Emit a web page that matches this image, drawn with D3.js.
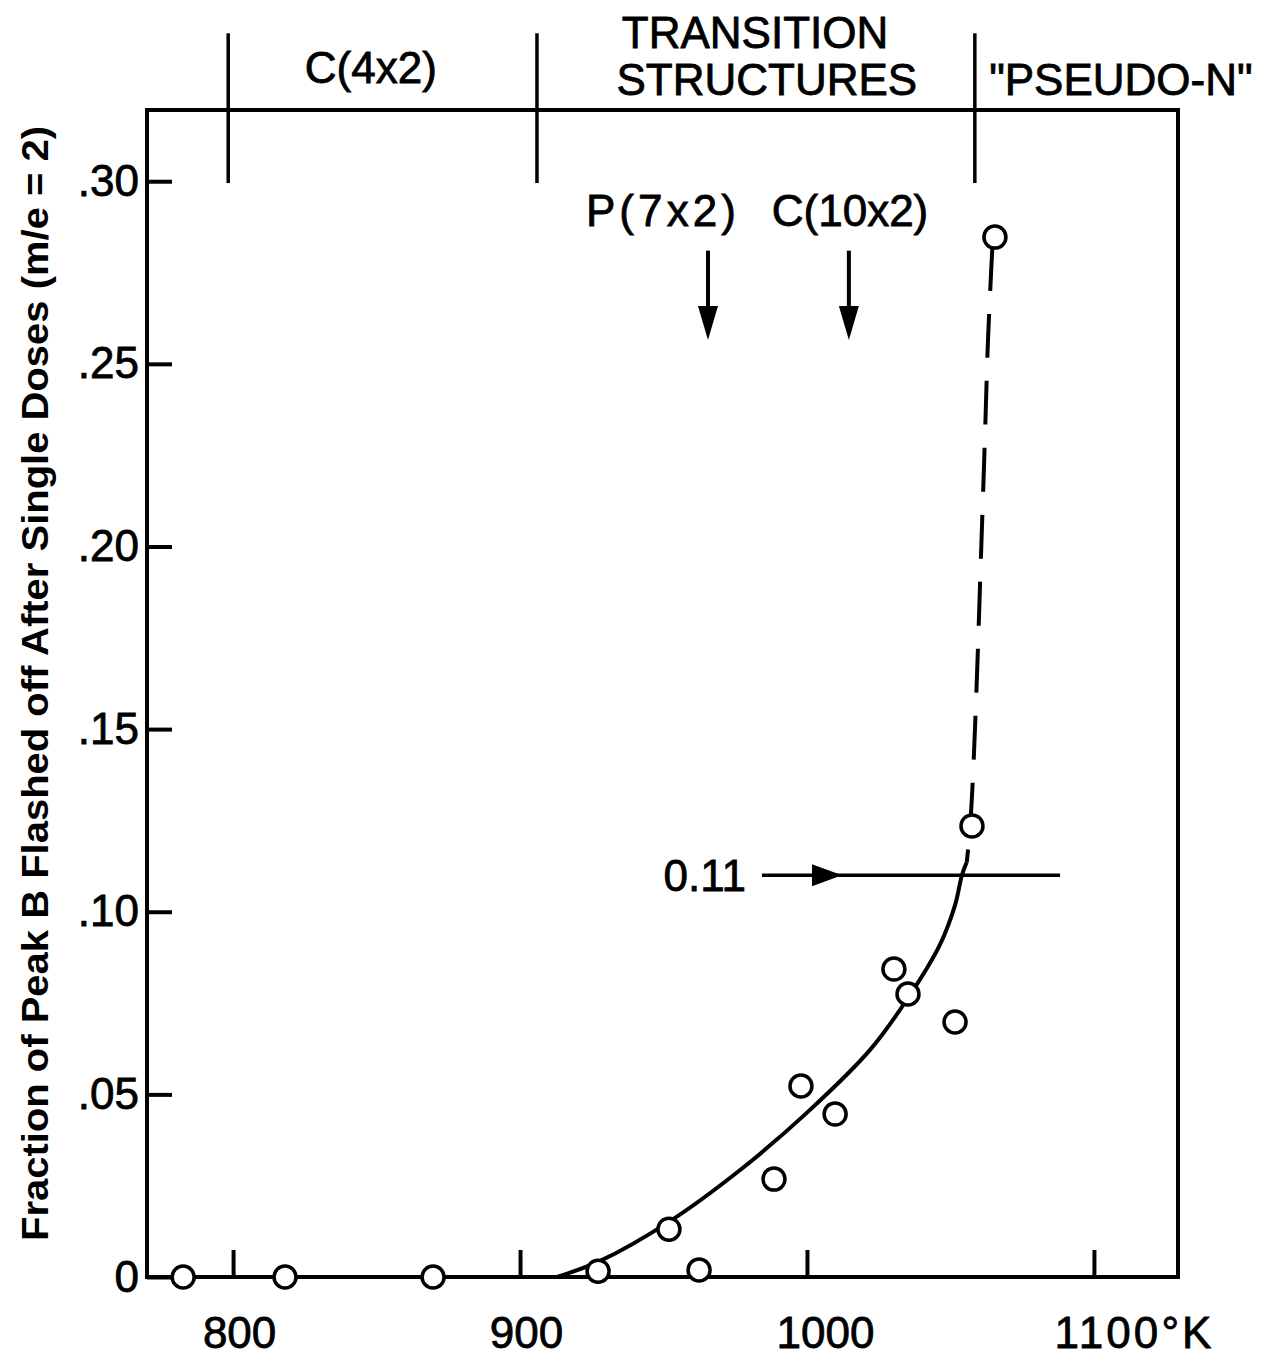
<!DOCTYPE html>
<html>
<head>
<meta charset="utf-8">
<script src="https://cdn.jsdelivr.net/npm/d3@7"></script>
<style>
  html, body { margin: 0; padding: 0; background: #fff; }
  svg { display: block; }
  text { font-family: "Liberation Sans", Arial, sans-serif; fill: #000; }
</style>
</head>
<body>
<svg id="chart" width="1275" height="1359"></svg>
<script>
// Measured points: temperature (K) vs. fraction of peak B flashed off
const tempK    = [782.6, 818.1, 869.7, 927.2, 951.9, 962.4, 988.5, 997.9, 1009.8, 1030.3, 1035.2, 1051.6, 1057.5, 1065.5];
const fraction = [0, 0, 0, 0.0016, 0.0131, 0.0019, 0.0268, 0.0523, 0.0446, 0.0843, 0.0775, 0.0698, 0.1235, 0.2847];

// Hand-drawn fit: solid part, then dashed continuation
const fitSolidT = [912.9, 927.9, 951.9, 976.7, 1000.3, 1021.9, 1035.9, 1046.3, 1051.6, 1054.0, 1055.7];
const fitSolidF = [0, 0.0044, 0.0151, 0.0293, 0.0452, 0.0621, 0.0772, 0.0909, 0.1018, 0.1100, 0.1136];
const fitDashT  = [1055.7, 1056.8, 1057.8, 1059.2, 1060.6, 1062.0, 1063.1, 1064.6];
const fitDashF  = [0.1136, 0.1228, 0.1363, 0.1637, 0.1965, 0.2294, 0.2568, 0.2820];

// Axis ticks
const xTicks      = [800, 900, 1000, 1100];
const xTickLabels = ["800", "900", "1000", "1100°K"];
const yTicks      = [0, 0.05, 0.10, 0.15, 0.20, 0.25, 0.30];
const yTickLabels = ["0", ".05", ".10", ".15", ".20", ".25", ".30"];

// Surface-structure regions along the temperature axis
const regionBounds = [798.3, 905.9, 1058.5];
const regionNames  = [["C(4x2)"], ["TRANSITION", "STRUCTURES"], ["\"PSEUDO-N\""]];
const regionLabelT = [[848], [981.9, 986.0], [1109.4]];

// Structure markers with downward arrows
const markerNames  = ["P(7x2)", "C(10x2)"];
const markerT      = [965.5, 1014.6];
const markerLabelT = [949.1, 1015];

// Threshold line
const thresholdValue = 0.11;
const thresholdLabel = "0.11";
const thresholdFrom  = 984.3;
const thresholdTo    = 1088.2;

const yTitle = "Fraction of Peak B Flashed off After Single Doses (m/e = 2)";

const svg = d3.select("#chart");
const plot = { left: 147, right: 1178, top: 110, bottom: 1277 };

const x = d3.scaleLinear().domain([770, 1129.3]).range([plot.left, plot.right]);
const y = d3.scaleLinear().domain([0, 0.3195]).range([plot.bottom, plot.top]);

const ink = s => s.style("stroke", "#000").style("stroke-width", "0.8px");

// Frame
svg.append("rect")
  .attr("x", plot.left).attr("y", plot.top)
  .attr("width", plot.right - plot.left).attr("height", plot.bottom - plot.top)
  .attr("fill", "none").attr("stroke", "#000").attr("stroke-width", 4);

// Bottom axis (ticks pointing inward)
const xAxis = d3.axisBottom(x).tickValues(xTicks).tickSize(-27).tickPadding(40)
  .tickFormat((d, i) => xTickLabels[i]);
const gx = svg.append("g").attr("transform", `translate(0,${plot.bottom})`).call(xAxis);
gx.select(".domain").remove();
gx.selectAll(".tick line").attr("stroke", "#000").attr("stroke-width", 4);
gx.selectAll(".tick text")
  .style("font-size", "44px")
  .attr("text-anchor", (d, i) => i === xTicks.length - 1 ? "start" : "middle")
  .attr("dx", (d, i) => i === xTicks.length - 1 ? -40 : (i === 2 ? 18 : 6))
  .each(function (d, i) {
    if (i === xTicks.length - 1) d3.select(this).attr("textLength", 157).attr("lengthAdjust", "spacing");
  })
  .call(ink);

// Left axis (ticks pointing inward)
const yAxis = d3.axisLeft(y).tickValues(yTicks).tickSize(-25).tickPadding(8)
  .tickFormat((d, i) => yTickLabels[i]);
const gy = svg.append("g").attr("transform", `translate(${plot.left},0)`).call(yAxis);
gy.select(".domain").remove();
gy.selectAll(".tick line").attr("stroke", "#000").attr("stroke-width", 4);
gy.selectAll(".tick text").style("font-size", "44px").call(ink);

// Y axis title
svg.append("text")
  .attr("transform", `translate(48,${(plot.top + plot.bottom) / 2 - 10}) rotate(-90)`)
  .attr("text-anchor", "middle")
  .attr("textLength", 1115).attr("lengthAdjust", "spacingAndGlyphs")
  .style("font-size", "36px").style("font-weight", "bold")
  .text(yTitle);

// Region dividers rising above the frame
svg.selectAll("line.region")
  .data(regionBounds)
  .join("line").attr("class", "region")
  .attr("x1", d => x(d)).attr("x2", d => x(d))
  .attr("y1", y(0.2995)).attr("y2", y(0.3405))
  .attr("stroke", "#000").attr("stroke-width", 3.5);

// Region names
const regionBase = [[83], [48, 95], [95]];
regionNames.forEach((lines, i) => {
  lines.forEach((s, j) => {
    svg.append("text")
      .attr("x", x(regionLabelT[i][j])).attr("y", regionBase[i][j])
      .attr("text-anchor", "middle")
      .style("font-size", "44px")
      .text(s)
      .call(ink);
  });
});

// Structure markers: label + down arrow
markerNames.forEach((s, i) => {
  const t = svg.append("text")
    .attr("x", x(markerLabelT[i])).attr("y", 226)
    .attr("text-anchor", "middle").style("font-size", "44px")
    .text(s)
    .call(ink);
  if (i === 0) t.attr("textLength", 150).attr("lengthAdjust", "spacing");
  const ax = x(markerT[i]);
  const yStart = y(0.281), yTip = y(0.2565);
  svg.append("line")
    .attr("x1", ax).attr("x2", ax).attr("y1", yStart).attr("y2", yTip - 20)
    .attr("stroke", "#000").attr("stroke-width", 4);
  svg.append("path")
    .attr("d", `M${ax - 10},${yTip - 34} L${ax + 10},${yTip - 34} L${ax},${yTip} Z`)
    .attr("fill", "#000");
});

// Threshold line with arrow
const ty = y(thresholdValue);
svg.append("line")
  .attr("x1", x(thresholdFrom)).attr("x2", x(thresholdTo))
  .attr("y1", ty).attr("y2", ty)
  .attr("stroke", "#000").attr("stroke-width", 3.5);
const tipX = x(1012.2);
svg.append("path")
  .attr("d", `M${tipX - 30},${ty - 11} L${tipX},${ty} L${tipX - 30},${ty + 11} Z`)
  .attr("fill", "#000");
svg.append("text")
  .attr("x", x(thresholdFrom) - 16).attr("y", ty + 16)
  .attr("text-anchor", "end").style("font-size", "44px")
  .text(thresholdLabel)
  .call(ink);

// Fitted curve
const line = d3.line().x(d => x(d[0])).y(d => y(d[1])).curve(d3.curveCatmullRom.alpha(0.5));
svg.append("path")
  .attr("d", line(fitSolidT.map((t, i) => [t, fitSolidF[i]])))
  .attr("fill", "none").attr("stroke", "#000").attr("stroke-width", 4);
// dashed part drawn from the top point downward so a dash meets that circle
svg.append("path")
  .attr("d", line(fitDashT.map((t, i) => [t, fitDashF[i]]).reverse()))
  .attr("fill", "none").attr("stroke", "#000").attr("stroke-width", 4)
  .attr("stroke-dasharray", "44,23");

// Data points
svg.selectAll("circle.pt")
  .data(tempK.map((t, i) => [t, fraction[i]]))
  .join("circle").attr("class", "pt")
  .attr("cx", d => x(d[0])).attr("cy", d => y(d[1]))
  .attr("r", 11)
  .attr("fill", "#fff").attr("stroke", "#000").attr("stroke-width", 3.5);
</script>
</body>
</html>
